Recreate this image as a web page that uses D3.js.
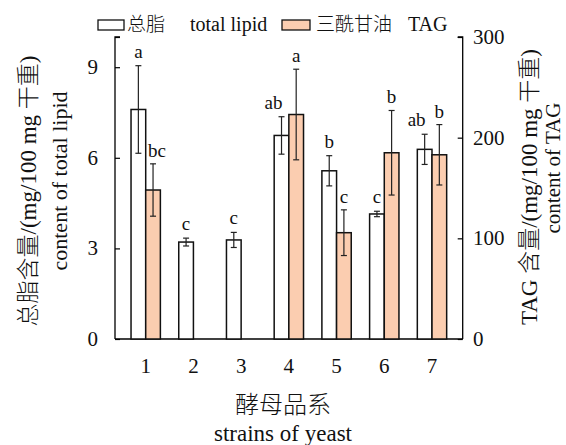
<!DOCTYPE html>
<html>
<head>
<meta charset="utf-8">
<script src="https://cdn.jsdelivr.net/npm/d3@7"></script>
<style>
  body { margin: 0; background: #fff; }
  text { font-family: "Liberation Serif", "Noto Sans CJK SC", serif; fill: #111; }
  .cjk { font-weight: 300; }
</style>
</head>
<body>
<svg width="566" height="445"></svg>
<script>
const strains = ["1", "2", "3", "4", "5", "6", "7"];
const lipid = [7.6, 3.21, 3.28, 6.74, 5.57, 4.14, 6.28];
const lipidErr = [1.45, 0.13, 0.25, 0.62, 0.5, 0.09, 0.5];
const lipidSig = ["a", "c", "c", "ab", "b", "c", "ab"];
const tag = [148, 0, 0, 223, 105.6, 185, 183];
const tagErr = [26, 0, 0, 45, 22.7, 42, 30];
const tagSig = ["bc", "", "", "a", "c", "b", "b"];
const leftTicks = [0, 3, 6, 9];
const rightTicks = [0, 100, 200, 300];

const svg = d3.select("svg"),
  x0 = 115,
  x1 = 462.7,
  yTop = 37,
  yBottom = 339;

const x = d3.scaleBand().domain(strains).range([x0, x1]).paddingInner(0.385).paddingOuter(0.336);
const half = x.bandwidth() / 2;
const yL = d3.scaleLinear().domain([0, 10]).range([yBottom, yTop]);
const yR = d3.scaleLinear().domain([0, 300]).range([yBottom, yTop]);

// axes, ticks pointing inward
svg.append("g")
  .attr("transform", `translate(${x0},0)`)
  .call(d3.axisRight(yL).tickValues(leftTicks.concat([10])).tickSize(5).tickFormat(""))
  .call(g => g.select(".domain").attr("d", `M5,${yTop}H0V${yBottom}`).attr("stroke-width", 1.3))
  .call(g => g.selectAll(".tick line").attr("stroke-width", 1.2));

svg.append("g")
  .attr("transform", `translate(${x1},0)`)
  .call(d3.axisLeft(yR).tickValues(rightTicks).tickSize(5).tickFormat(""))
  .call(g => g.select(".domain").attr("d", `M-5,${yTop}H0V${yBottom}`).attr("stroke-width", 1.3))
  .call(g => g.selectAll(".tick line").attr("stroke-width", 1.2));

svg.append("line")
  .attr("x1", x0).attr("x2", x1)
  .attr("y1", yBottom).attr("y2", yBottom)
  .attr("stroke", "#000").attr("stroke-width", 1.5);

svg.selectAll(".ltick").data(leftTicks).enter().append("text")
  .attr("x", 98).attr("y", d => yL(d) + 7)
  .attr("text-anchor", "end").attr("font-size", 21)
  .text(d => d);

svg.selectAll(".rtick").data(rightTicks).enter().append("text")
  .attr("x", 473).attr("y", d => yR(d) + 7)
  .attr("font-size", 21)
  .text(d => d);

svg.selectAll(".cat").data(strains).enter().append("text")
  .attr("x", d => x(d) + half).attr("y", 373)
  .attr("text-anchor", "middle").attr("font-size", 21)
  .text(d => d);

// bars
const rows = strains.map((s, i) => ({ s, l: lipid[i], le: lipidErr[i], ls: lipidSig[i], t: tag[i], te: tagErr[i], ts: tagSig[i] }));

svg.selectAll(".lbar").data(rows).enter().append("rect")
  .attr("x", d => x(d.s)).attr("width", half)
  .attr("y", d => yL(d.l)).attr("height", d => yBottom - yL(d.l))
  .attr("fill", "#fff").attr("stroke", "#111").attr("stroke-width", 1.5);

svg.selectAll(".tbar").data(rows.filter(d => d.t > 0)).enter().append("rect")
  .attr("x", d => x(d.s) + half).attr("width", half)
  .attr("y", d => yR(d.t)).attr("height", d => yBottom - yR(d.t))
  .attr("fill", "#fbcdb0").attr("stroke", "#111").attr("stroke-width", 1.5);

function errBar(cx, yHi, yLo) {
  const g = svg.append("g").attr("stroke", "#222").attr("stroke-width", 1.2);
  g.append("line").attr("x1", cx).attr("x2", cx).attr("y1", yHi).attr("y2", yLo);
  g.append("line").attr("x1", cx - 3).attr("x2", cx + 3).attr("y1", yHi).attr("y2", yHi);
  g.append("line").attr("x1", cx - 3).attr("x2", cx + 3).attr("y1", yLo).attr("y2", yLo);
}

rows.forEach(d => {
  const cl = x(d.s) + half / 2;
  errBar(cl, yL(d.l + d.le), yL(d.l - d.le));
  const shift = d.t > 0 && d.ls.length > 1 ? -8 : 0;
  svg.append("text")
    .attr("x", cl + shift).attr("y", yL(d.l + d.le) - 8)
    .attr("text-anchor", "middle").attr("font-size", 19)
    .text(d.ls);
  if (d.t > 0) {
    const ct = x(d.s) + half * 1.5;
    errBar(ct, yR(d.t + d.te), yR(d.t - d.te));
    svg.append("text")
      .attr("x", ct + (d.ts.length > 1 ? 4 : 0)).attr("y", yR(d.t + d.te) - 7)
      .attr("text-anchor", "middle").attr("font-size", 19)
      .text(d.ts);
  }
});

// legend
svg.append("rect").attr("x", 98).attr("y", 20).attr("width", 26).attr("height", 10)
  .attr("fill", "#fff").attr("stroke", "#111").attr("stroke-width", 1.3);
svg.append("text").attr("class", "cjk").attr("x", 127).attr("y", 31).attr("font-size", 19).text("总脂");
svg.append("text").attr("x", 190).attr("y", 31).attr("font-size", 20).text("total lipid");
svg.append("rect").attr("x", 282).attr("y", 20).attr("width", 28).attr("height", 10)
  .attr("fill", "#fbcdb0").attr("stroke", "#111").attr("stroke-width", 1.3);
svg.append("text").attr("class", "cjk").attr("x", 316).attr("y", 31).attr("font-size", 19).text("三酰甘油");
svg.append("text").attr("x", 408).attr("y", 31).attr("font-size", 20).text("TAG");

// axis titles
svg.append("text").attr("class", "cjk").attr("transform", "translate(36,191) rotate(-90)")
  .attr("text-anchor", "middle").attr("font-size", 23)
  .text("总脂含量/(mg/100 mg 干重)");
svg.append("text").attr("transform", "translate(67,181) rotate(-90)")
  .attr("text-anchor", "middle").attr("font-size", 22)
  .text("content of total lipid");
svg.append("text").attr("class", "cjk").attr("transform", "translate(537,187) rotate(-90)")
  .attr("text-anchor", "middle").attr("font-size", 23)
  .text("TAG 含量/(mg/100 mg 干重)");
svg.append("text").attr("transform", "translate(560,168) rotate(-90)")
  .attr("text-anchor", "middle").attr("font-size", 21)
  .text("content of TAG");

svg.append("text").attr("class", "cjk").attr("x", 283).attr("y", 413)
  .attr("text-anchor", "middle").attr("font-size", 24).text("酵母品系");
svg.append("text").attr("x", 283).attr("y", 441)
  .attr("text-anchor", "middle").attr("font-size", 23).text("strains of yeast");
</script>
</body>
</html>
